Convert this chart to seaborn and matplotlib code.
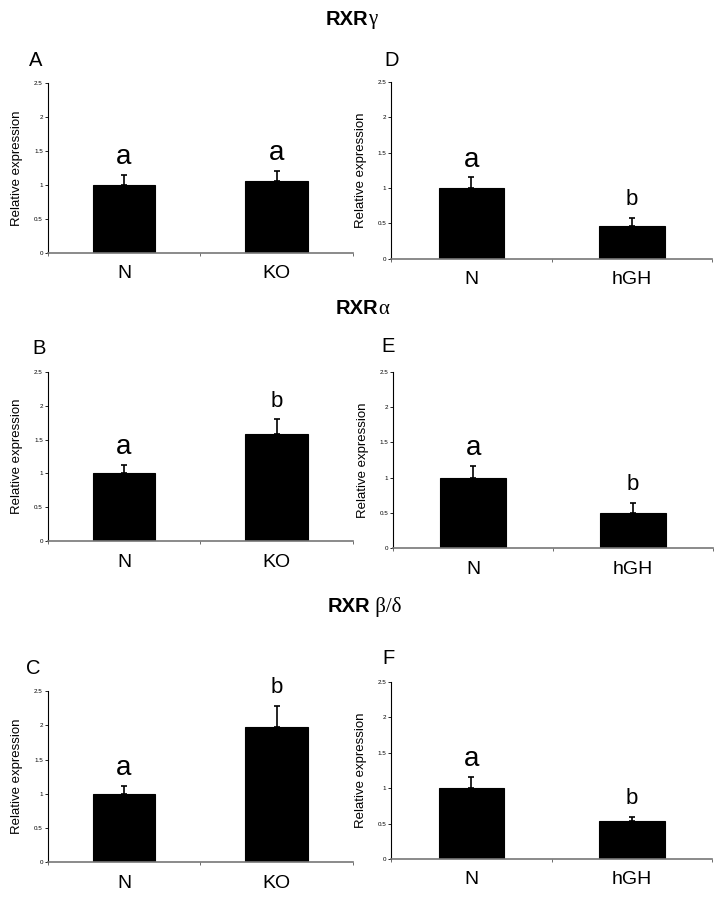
import numpy as np
import pandas as pd
import matplotlib
matplotlib.use("Agg")
import matplotlib.pyplot as plt
import seaborn as sns

# ---- data ----
ko_groups = ["N", "KO"]
hgh_groups = ["N", "hGH"]

a_mean = [1.00, 1.06]
a_err = [0.14, 0.14]
a_sig = ["a", "a"]

b_mean = [1.00, 1.58]
b_err = [0.12, 0.22]
b_sig = ["a", "b"]

c_mean = [1.00, 1.98]
c_err = [0.12, 0.31]
c_sig = ["a", "b"]

d_mean = [1.00, 0.46]
d_err = [0.15, 0.12]
d_sig = ["a", "b"]

e_mean = [1.00, 0.50]
e_err = [0.16, 0.14]
e_sig = ["a", "b"]

f_mean = [1.00, 0.53]
f_err = [0.16, 0.07]
f_sig = ["a", "b"]

y_ticks = [0, 0.5, 1, 1.5, 2, 2.5]
y_ticklabels = ["0", "0.5", "1", "1.5", "2", "2.5"]

sns.set_style("white")
plt.rcParams['font.family'] = ['Liberation Sans', 'DejaVu Sans']
plt.rcParams['text.color'] = 'black'
plt.rcParams['axes.labelcolor'] = 'black'
plt.rcParams['xtick.color'] = 'black'
plt.rcParams['ytick.color'] = 'black'

W, H = 728, 901
fig = plt.figure(figsize=(W / 100, H / 100), dpi=100)


def px_axes(x0, y0, x1, y1):
    return fig.add_axes([x0 / W, 1 - y1 / H, (x1 - x0) / W, (y1 - y0) / H])


panels = [
    # letter, groups, mean, err, sig, axes box (px), letter pos (px)
    ("A", ko_groups, a_mean, a_err, a_sig, (47.7, 82.7, 353, 253), (29, 61)),
    ("B", ko_groups, b_mean, b_err, b_sig, (47.7, 371.7, 353, 541.3), (32, 349)),
    ("C", ko_groups, c_mean, c_err, c_sig, (47.7, 691.3, 353, 862), (26, 669)),
    ("D", hgh_groups, d_mean, d_err, d_sig, (391.3, 82, 712, 258.7), (384, 60)),
    ("E", hgh_groups, e_mean, e_err, e_sig, (393.3, 371.7, 713, 548.3), (381, 347)),
    ("F", hgh_groups, f_mean, f_err, f_sig, (391.3, 682, 712, 859), (382, 658)),
]

for letter, groups, mean, err, sig, box, lpos in panels:
    ax = px_axes(*box)
    df = pd.DataFrame({"group": groups, "value": mean})
    sns.barplot(data=df, x="group", y="value", color="black", width=0.41,
                edgecolor="black", linewidth=0.8, errorbar=None, ax=ax,
                saturation=1)
    x = np.arange(len(groups))
    ax.errorbar(x, mean, yerr=[np.zeros(len(err)), err], fmt="none",
                ecolor="black", elinewidth=1.2, capsize=2.5, capthick=1.2)
    for xi, m, e, s in zip(x, mean, err, sig):
        fs = 20 if s == "a" else 16
        ax.annotate(s, (xi, m + e), xytext=(0, 3.5 if s == "a" else 5.5),
                    textcoords="offset points", ha="center", va="bottom",
                    fontsize=fs)
    ax.set_xlim(-0.5, 1.5)
    ax.set_ylim(0, 2.5)
    ax.set_yticks(y_ticks)
    ax.set_yticklabels(y_ticklabels, fontsize=4.5)
    ax.set_xticks(x)
    ax.set_xticklabels(groups, fontsize=14)
    ax.set_xticks([-0.5, 0.5, 1.5], minor=True)
    ax.tick_params(axis="x", which="major", length=0, pad=9)
    ax.tick_params(axis="x", which="minor", length=2.5, direction="out",
                   color="#555555", bottom=True)
    ax.tick_params(axis="y", length=2, direction="out", left=True, pad=1.5,
                   color="black", width=0.6)
    ax.set_xlabel("")
    ax.set_ylabel("Relative expression", fontsize=9.5, labelpad=8)
    sns.despine(ax=ax)
    ax.spines["left"].set_color("black")
    ax.spines["left"].set_linewidth(0.8)
    ax.spines["bottom"].set_color("#777777")
    ax.spines["bottom"].set_linewidth(1.2)
    fig.text(lpos[0] / W, 1 - lpos[1] / H, letter, fontsize=14.5,
             ha="left", va="center")

# section titles: bold "RXR" followed by a serif greek suffix
titles = [("RXR", "γ", 368, 19.5), ("RXR", "α", 378, 309), ("RXR", " β/δ", 370, 607)]
for base, greek, xsplit, yc in titles:
    fig.text(xsplit / W, 1 - yc / H, base, fontsize=14.5, fontweight="bold",
             ha="right", va="center")
    fig.text(xsplit / W, 1 - yc / H, greek, fontsize=15,
             family=["Liberation Serif", "DejaVu Serif"],
             ha="left", va="center")

fig.savefig("out.png", dpi=100)
